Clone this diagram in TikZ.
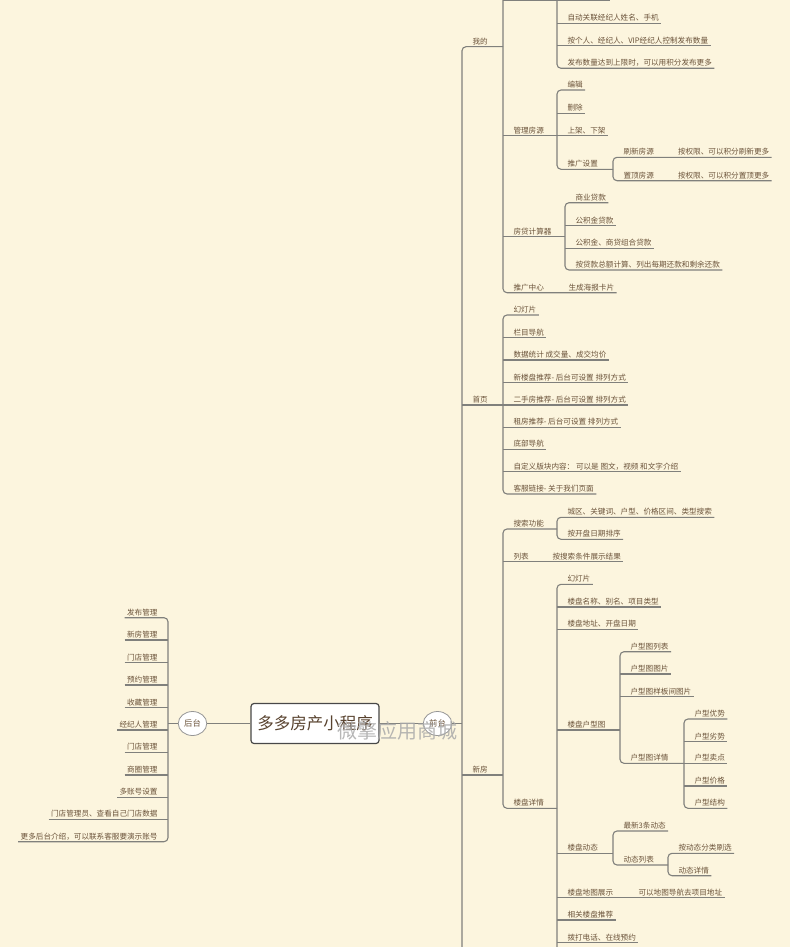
\documentclass[tikz,border=0pt]{standalone}
\usepackage{fontspec}
\newfontfamily\cjk{Noto Sans CJK SC}
\usetikzlibrary{shapes.geometric}
\definecolor{bg}{RGB}{252,245,222}
\definecolor{txt}{RGB}{107,83,58}
\definecolor{ln}{RGB}{128,128,124}
\definecolor{rootbd}{RGB}{72,72,72}
\definecolor{roottx}{RGB}{88,66,46}
\definecolor{ovalbd}{RGB}{150,150,150}
\definecolor{wmark}{RGB}{170,170,170}
\begin{document}
\begin{tikzpicture}[x=1pt,y=-1pt,
  lbl/.style={anchor=south west, inner xsep=2.5pt, inner ysep=2.6pt, text depth=0pt,
    outer sep=0pt, font=\cjk\fontsize{7.6}{8}\selectfont, text=txt},
  lblr/.style={lbl, anchor=south east},
  con/.style={draw=ln, line width=1.1pt},
  rc/.style={con, rounded corners=4pt},
  rootbox/.style={draw=rootbd, line width=1.2pt, fill=white, rounded corners=3pt,
    minimum width=128pt, minimum height=40pt, inner sep=0pt,
    font=\cjk\fontsize{16.5}{18}\selectfont, text=roottx},
  oval/.style={ellipse, draw=ovalbd, line width=0.8pt, fill=white, minimum width=28.5pt,
    minimum height=24pt, inner sep=0pt, font=\cjk\fontsize{8.3}{9}\selectfont, text=txt}]
\fill[bg] (0,0) rectangle (790,947);
\useasboundingbox (0,0) rectangle (790,947);
\clip (0,0) rectangle (790,947);

% vertical line positions
\coordinate (T) at (462,0);
\coordinate (A) at (503,0);
\coordinate (B) at (557,0);
\coordinate (C) at (613,0);
\coordinate (D) at (565,0);
\coordinate (F) at (620,0);
\coordinate (G) at (684,0);
\coordinate (H) at (668,0);
\coordinate (VL) at (168,0);
\coordinate (Atop) at (503,-30);
\coordinate (Btop) at (557,-30);
\coordinate (Tbot) at (462,980);
\coordinate (Bbot) at (557,980);
\coordinate (fbL) at (503,0.6);
\coordinate (fbR) at (610,0.6);

% centre
\node[rootbox] (root) at (315,723.5) {多多房产小程序};
\node[oval] (ht) at (192.5,723.5) {后台};
\node[oval] (qt) at (437.5,723.5) {前台};
\draw[con] (root) -- (ht);
\draw[con] (root) -- (qt);
\draw[con] (qt.east) -- (qt.east -| T);

% left side
\node[lblr] (L1) at (160,617.7) {发布管理};
\node[lblr] (L2) at (160,640) {新房管理};
\node[lblr] (L3) at (160,662.7) {门店管理};
\node[lblr] (L4) at (160,685) {预约管理};
\node[lblr] (L5) at (160,707.7) {收藏管理};
\node[lblr] (L6) at (160,730) {经纪人管理};
\node[lblr] (L7) at (160,752.3) {门店管理};
\node[lblr] (L8) at (160,775) {商圈管理};
\node[lblr] (L9) at (160,797.3) {多账号设置};
\node[lblr] (L10) at (160,819.3) {门店管理员、查看自己门店数据};
\node[lblr] (L11) at (160,841.7) {更多后台介绍，可以联系客服要演示账号};
\draw[rc] (L1.south west) -- (L1.south -| VL) -- (L11.south -| VL) -- (L11.south west);
\foreach \n in {L2,L3,L4,L5,L6,L7,L8,L9,L10}
  \draw[con] (\n.south west) -- (\n.south -| VL);
\draw[con] (ht.west) -- (ht.west -| VL);

% first level right
\node[lbl] (wd) at (470,46.7) {我的};
\node[lbl] (sy) at (470,405) {首页};
\node[lbl] (xf) at (470,775) {新房};
\draw[rc] (wd.south -| A) -- (wd.south -| T) -- (Tbot);
\draw[con] (sy.south -| T) -- (sy.south -| A);

% 我的
\node[lbl] (gl) at (511,135.7) {管理房源};
\node[lbl] (fd) at (511,236.7) {房贷计算器};
\node[lbl] (tg) at (511,292.7) {推广中心};
\node[lbl] (tgk) at (566,292.7) {生成海报卡片};
\draw[rc] (Atop) -- (tg.south -| A) -- (tgk.south east);
\draw[con] (fbL) -- (fbR);
\draw[con] (gl.south -| A) -- (gl.south -| B);
\draw[con] (fd.south -| A) -- (fd.south -| D);

\node[lbl] (zd) at (565,23.3) {自动关联经纪人姓名、手机};
\node[lbl] (agr) at (565,45.7) {按个人、经纪人、VIP经纪人控制发布数量};
\node[lbl] (fbsl) at (565,68.3) {发布数量达到上限时，可以用积分发布更多};
\draw[rc] (Btop) -- (fbsl.south -| B) -- (fbsl.south east);
\draw[con] (zd.south -| B) -- (zd.south east);
\draw[con] (agr.south -| B) -- (agr.south east);

\node[lbl] (bj) at (565,90) {编辑};
\node[lbl] (sc) at (565,113.3) {删除};
\node[lbl] (sj) at (565,135.7) {上架、下架};
\node[lbl] (tgsz) at (565,169.3) {推广设置};
\draw[rc] (bj.south east) -- (bj.south -| B) -- (tgsz.south -| B) -- (tgsz.south -| C);
\draw[con] (sc.south -| B) -- (sc.south east);
\draw[con] (sj.south -| B) -- (sj.south east);

\node[lbl] (sx) at (621,157.3) {刷新房源};
\node[lbl] (sxq) at (675.5,157.3) {按权限、可以积分刷新更多};
\node[lbl] (zdy) at (621,180.7) {置顶房源};
\node[lbl] (zdq) at (675.5,180.7) {按权限、可以积分置顶更多};
\draw[rc] (sxq.south east) -- (sx.south -| C) -- (zdy.south -| C) -- (zdq.south east);

\node[lbl] (sydk) at (573,202.7) {商业贷款};
\node[lbl] (gjj) at (573,225.7) {公积金贷款};
\node[lbl] (zhdk) at (573,248.3) {公积金、商贷组合贷款};
\node[lbl] (ze) at (573,270) {按贷款总额计算、列出每期还款和剩余还款};
\draw[rc] (sydk.south east) -- (sydk.south -| D) -- (ze.south -| D) -- (ze.south east);
\draw[con] (gjj.south -| D) -- (gjj.south east);
\draw[con] (zhdk.south -| D) -- (zhdk.south east);

% 首页
\node[lbl] (h1) at (511,315) {幻灯片};
\node[lbl] (h2) at (511,337.7) {栏目导航};
\node[lbl] (h3) at (511,360) {数据统计 成交量、成交均价};
\node[lbl] (h4) at (511,382.7) {新楼盘推荐- 后台可设置 排列方式};
\node[lbl] (h5) at (511,405) {二手房推荐- 后台可设置 排列方式};
\node[lbl] (h6) at (511,427.3) {租房推荐- 后台可设置 排列方式};
\node[lbl] (h7) at (511,449.3) {底部导航};
\node[lbl] (h8) at (511,471.7) {自定义版块内容： 可以是 图文，视频 和文字介绍};
\node[lbl] (h9) at (511,494) {客服链接- 关于我们页面};
\draw[rc] (h1.south east) -- (h1.south -| A) -- (h9.south -| A) -- (h9.south east);
\foreach \n in {h2,h3,h4,h5,h6,h7,h8}
  \draw[con] (\n.south -| A) -- (\n.south east);

% 新房
\node[lbl] (ss) at (511,529) {搜索功能};
\node[lbl] (lb) at (511,561.7) {列表};
\node[lbl] (asj) at (550,561.7) {按搜索条件展示结果};
\node[lbl] (lpxq) at (511,808.3) {楼盘详情};
\draw[con] (xf.south -| T) -- (xf.south -| A);
\draw[rc] (ss.south -| B) -- (ss.south -| A) -- (lpxq.south -| A) -- (lpxq.south -| B);
\draw[con] (lb.south -| A) -- (asj.south east);

\node[lbl] (cq) at (565,517.3) {城区、关键词、户型、价格区间、类型搜索};
\node[lbl] (akp) at (565,539.3) {按开盘日期排序};
\draw[rc] (cq.south east) -- (cq.south -| B) -- (akp.south -| B) -- (akp.south east);

\node[lbl] (k1) at (565,584.3) {幻灯片};
\node[lbl] (k2) at (565,607) {楼盘名称、别名、项目类型};
\node[lbl] (k3) at (565,629.3) {楼盘地址、开盘日期};
\node[lbl] (hxt) at (565,730) {楼盘户型图};
\node[lbl] (lpdt) at (565,853.3) {楼盘动态};
\node[lbl] (dtzs) at (565,897.7) {楼盘地图展示};
\node[lbl] (dhq) at (636,897.7) {可以地图导航去项目地址};
\node[lbl] (xg) at (565,920) {相关楼盘推荐};
\node[lbl] (bd) at (565,942.7) {拨打电话、在线预约};
\draw[rc] (k1.south east) -- (k1.south -| B) -- (Bbot);
\foreach \n in {k2,k3,xg,bd}
  \draw[con] (\n.south -| B) -- (\n.south east);
\draw[con] (hxt.south -| B) -- (hxt.south -| F);
\draw[con] (lpdt.south -| B) -- (lpdt.south -| C);
\draw[con] (dtzs.south -| B) -- (dhq.south east);

\node[lbl] (t1) at (628,651.7) {户型图列表};
\node[lbl] (t2) at (628,674) {户型图图片};
\node[lbl] (t3) at (628,696.7) {户型图样板间图片};
\node[lbl] (t4) at (628,763.3) {户型图详情};
\draw[rc] (t1.south east) -- (t1.south -| F) -- (t4.south -| F) -- (t4.south -| G);
\draw[con] (t2.south -| F) -- (t2.south east);
\draw[con] (t3.south -| F) -- (t3.south east);

\node[lbl] (m1) at (692,719) {户型优势};
\node[lbl] (m2) at (692,741.7) {户型劣势};
\node[lbl] (m3) at (692,763.3) {户型卖点};
\node[lbl] (m4) at (692,786) {户型价格};
\node[lbl] (m5) at (692,808.3) {户型结构};
\draw[rc] (m1.south east) -- (m1.south -| G) -- (m5.south -| G) -- (m5.south east);
\foreach \n in {m2,m3,m4}
  \draw[con] (\n.south -| G) -- (\n.south east);

\node[lbl] (n1) at (621,831) {最新3条动态};
\node[lbl] (n2) at (621,865) {动态列表};
\draw[rc] (n1.south east) -- (n1.south -| C) -- (n2.south -| C) -- (n2.south -| H);

\node[lbl] (o1) at (676,853.3) {按动态分类刷选};
\node[lbl] (o2) at (676,875.7) {动态详情};
\draw[rc] (o1.south east) -- (o1.south -| H) -- (o2.south -| H) -- (o2.south east);

% watermark
\node[font=\cjk\fontsize{20}{20}\selectfont, text=wmark, opacity=0.85, inner sep=0pt] (wm) at (397,731) {微擎应用商城};
\end{tikzpicture}
\end{document}
